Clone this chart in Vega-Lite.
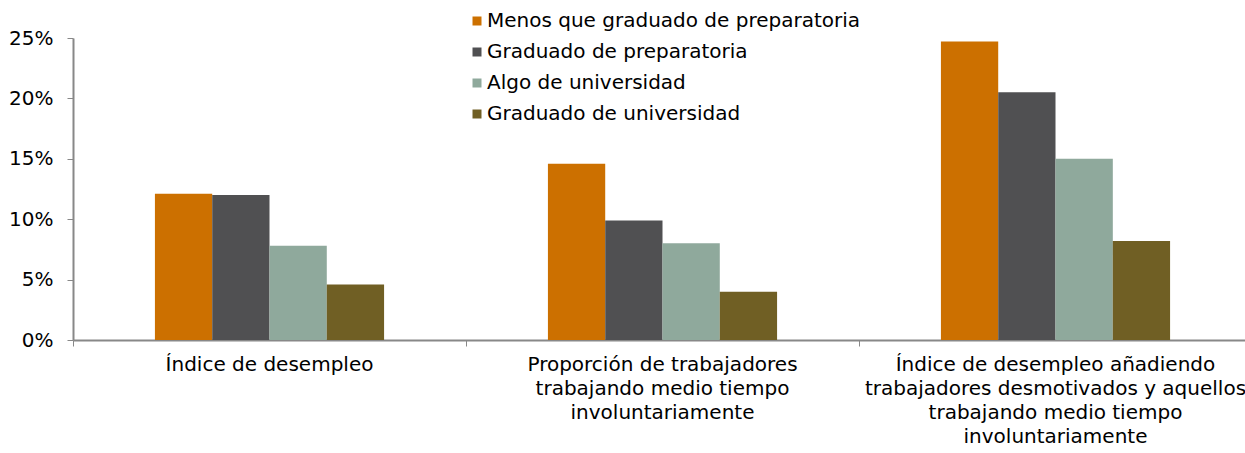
{
  "$schema": "https://vega.github.io/schema/vega-lite/v6.json",
  "width": 1179,
  "height": 302,
  "autosize": {"type": "none"},
  "padding": {"left": 73, "top": 38, "right": 0, "bottom": 113},
  "background": "white",
  "config": {
    "view": {"stroke": null},
    "font": "DejaVu Sans"
  },
  "data": {
    "values": [
      {"categoria": "Índice de desempleo", "nivel": "Menos que graduado de preparatoria", "valor": 0.121},
      {"categoria": "Índice de desempleo", "nivel": "Graduado de preparatoria", "valor": 0.120},
      {"categoria": "Índice de desempleo", "nivel": "Algo de universidad", "valor": 0.078},
      {"categoria": "Índice de desempleo", "nivel": "Graduado de universidad", "valor": 0.046},
      {"categoria": "Proporción de trabajadores trabajando medio tiempo involuntariamente", "nivel": "Menos que graduado de preparatoria", "valor": 0.146},
      {"categoria": "Proporción de trabajadores trabajando medio tiempo involuntariamente", "nivel": "Graduado de preparatoria", "valor": 0.099},
      {"categoria": "Proporción de trabajadores trabajando medio tiempo involuntariamente", "nivel": "Algo de universidad", "valor": 0.080},
      {"categoria": "Proporción de trabajadores trabajando medio tiempo involuntariamente", "nivel": "Graduado de universidad", "valor": 0.040},
      {"categoria": "Índice de desempleo añadiendo trabajadores desmotivados y aquellos trabajando medio tiempo involuntariamente", "nivel": "Menos que graduado de preparatoria", "valor": 0.247},
      {"categoria": "Índice de desempleo añadiendo trabajadores desmotivados y aquellos trabajando medio tiempo involuntariamente", "nivel": "Graduado de preparatoria", "valor": 0.205},
      {"categoria": "Índice de desempleo añadiendo trabajadores desmotivados y aquellos trabajando medio tiempo involuntariamente", "nivel": "Algo de universidad", "valor": 0.150},
      {"categoria": "Índice de desempleo añadiendo trabajadores desmotivados y aquellos trabajando medio tiempo involuntariamente", "nivel": "Graduado de universidad", "valor": 0.082}
    ]
  },
  "mark": {"type": "bar"},
  "encoding": {
    "x": {
      "field": "categoria",
      "type": "nominal",
      "sort": null,
      "scale": {"paddingInner": 0, "paddingOuter": 0},
      "axis": {
        "title": null,
        "labelAngle": 0,
        "bandPosition": 0,
        "domainColor": "#888888",
        "domainWidth": 2,
        "tickColor": "#888888",
        "tickSize": 6,
        "labelFontSize": 20,
        "labelColor": "#000000",
        "labelPadding": 8,
        "labelLineHeight": 24,
        "labelLimit": 0,
        "labelExpr": "datum.value == 'Índice de desempleo' ? 'Índice de desempleo' : datum.value == 'Proporción de trabajadores trabajando medio tiempo involuntariamente' ? ['Proporción de trabajadores', 'trabajando medio tiempo', 'involuntariamente'] : ['Índice de desempleo añadiendo', 'trabajadores desmotivados y aquellos', 'trabajando medio tiempo', 'involuntariamente']"
      }
    },
    "xOffset": {
      "field": "nivel",
      "type": "nominal",
      "sort": null,
      "scale": {
        "domain": ["_inicio", "Menos que graduado de preparatoria", "Graduado de preparatoria", "Algo de universidad", "Graduado de universidad", "_fin"],
        "paddingInner": 0,
        "paddingOuter": 0.43
      }
    },
    "y": {
      "field": "valor",
      "type": "quantitative",
      "scale": {"domain": [0, 0.25], "nice": false},
      "axis": {
        "title": null,
        "format": ".0%",
        "values": [0, 0.05, 0.1, 0.15, 0.2, 0.25],
        "grid": false,
        "domainColor": "#888888",
        "domainWidth": 2,
        "tickColor": "#888888",
        "tickSize": 6,
        "labelFontSize": 20,
        "labelColor": "#000000",
        "labelPadding": 14
      }
    },
    "color": {
      "field": "nivel",
      "type": "nominal",
      "sort": null,
      "scale": {
        "domain": ["Menos que graduado de preparatoria", "Graduado de preparatoria", "Algo de universidad", "Graduado de universidad"],
        "range": ["#CC7000", "#505052", "#8FA99C", "#705F24"]
      },
      "legend": {
        "title": null,
        "orient": "none",
        "legendX": 394,
        "legendY": -27,
        "symbolType": "square",
        "symbolSize": 81,
        "symbolStrokeWidth": 0,
        "labelFontSize": 20,
        "labelColor": "#000000",
        "labelOffset": 0,
        "rowPadding": 11,
        "labelLimit": 0
      }
    }
  }
}
